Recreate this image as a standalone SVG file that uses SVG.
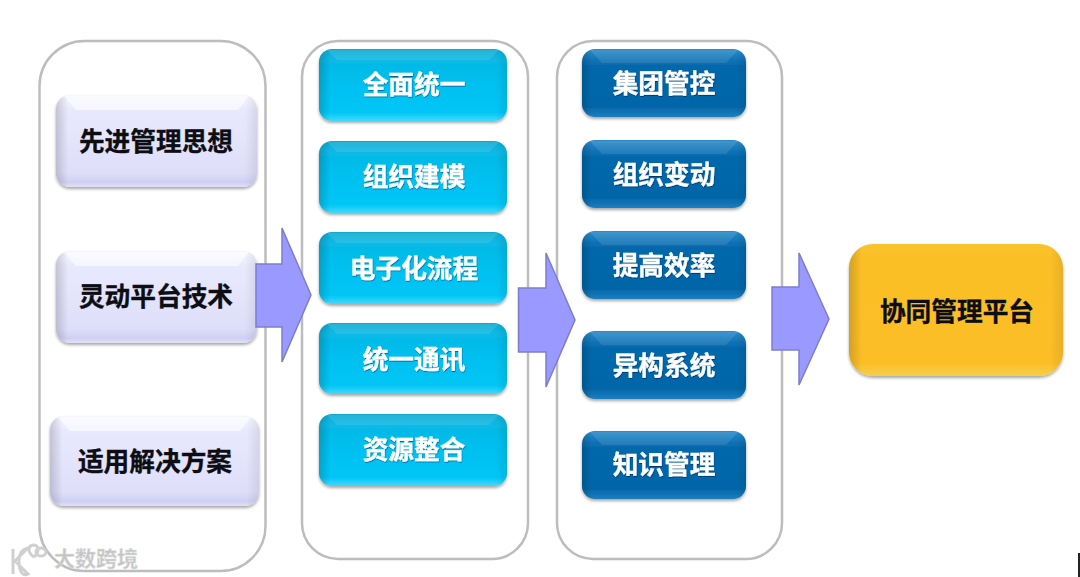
<svg xmlns="http://www.w3.org/2000/svg" width="1080" height="577" viewBox="0 0 1080 577">
<defs>
<style>
.panel{fill:#fff;stroke:#bdbdbd;stroke-width:2.5}
.arrow{fill:#9999ff;stroke:#7d7dcc;stroke-width:1.5}
text{font-family:"Noto Sans CJK SC","Liberation Sans",sans-serif;font-weight:700;text-anchor:middle;dominant-baseline:central;font-size:25.7px}
.dk{fill:#0d0d14;stroke:#0d0d14;stroke-width:.35}
.lt{fill:#fff;stroke:#fff;stroke-width:.3;filter:url(#ts)}
.side{fill:url(#sideShade)}
.lav{fill:url(#lavG);filter:url(#sh)}
.cy{fill:url(#cyG);filter:url(#sh)}
.bl{fill:url(#blG);filter:url(#sh)}
.go{fill:url(#goG);filter:url(#sh)}
.hi{fill:#fff;opacity:.55}
.hi2{fill:#fff;opacity:.1}
</style>
<linearGradient id="lavG" x1="0" y1="0" x2="0" y2="1">
<stop offset="0" stop-color="#f6f6ff"/><stop offset=".16" stop-color="#e9e9fd"/><stop offset=".85" stop-color="#dedefa"/><stop offset=".95" stop-color="#cfcff3"/><stop offset="1" stop-color="#e2e2f4"/>
</linearGradient>
<linearGradient id="cyG" x1="0" y1="0" x2="0" y2="1">
<stop offset="0" stop-color="#12a9cf"/><stop offset=".13" stop-color="#08b8e4"/><stop offset=".5" stop-color="#00c0f0"/><stop offset=".88" stop-color="#00c6f6"/><stop offset="1" stop-color="#45d8f9"/>
</linearGradient>
<linearGradient id="blG" x1="0" y1="0" x2="0" y2="1">
<stop offset="0" stop-color="#2e8cc8"/><stop offset=".14" stop-color="#1276b8"/><stop offset=".25" stop-color="#0568ab"/><stop offset=".85" stop-color="#0366a8"/><stop offset="1" stop-color="#1b7fc0"/>
</linearGradient>
<linearGradient id="goG" x1="0" y1="0" x2="0" y2="1">
<stop offset="0" stop-color="#f9c32a"/><stop offset=".1" stop-color="#fbbf28"/><stop offset=".9" stop-color="#fcbe28"/><stop offset="1" stop-color="#f4cf4a"/>
</linearGradient>
<linearGradient id="sideShade" x1="0" y1="0" x2="1" y2="0">
<stop offset="0" stop-color="#000" stop-opacity=".16"/><stop offset=".06" stop-color="#000" stop-opacity="0"/><stop offset=".94" stop-color="#000" stop-opacity="0"/><stop offset="1" stop-color="#000" stop-opacity=".08"/>
</linearGradient>
<filter id="sh" x="-10%" y="-10%" width="120%" height="125%"><feDropShadow dx="0" dy="2" stdDeviation="1.500" flood-color="#000" flood-opacity=".35"/></filter>
<filter id="ts" x="-10%" y="-20%" width="120%" height="140%"><feDropShadow dx="0.5" dy="1" stdDeviation="0.6" flood-color="#003" flood-opacity=".45"/></filter>
</defs>
<rect width="1080" height="577" fill="#fff"/>
<g id="panels">
<rect class="panel" x="39.500" y="41" width="226" height="530" rx="45"/>
<rect class="panel" x="302" y="41" width="226" height="518" rx="36"/>
<rect class="panel" x="557" y="41" width="225" height="518" rx="36"/>
</g>
<g id="n1"><rect class="lav" x="56" y="95" width="201" height="92" rx="14"/><rect class="side" x="56" y="95" width="201" height="92" rx="14"/><path class="hi" d="M64 96H249L238 110H76Z"/><text class="dk" x="156" y="139.500">先进管理思想</text></g>
<g id="n2"><rect class="lav" x="56" y="251" width="201" height="92" rx="14"/><rect class="side" x="56" y="251" width="201" height="92" rx="14"/><path class="hi" d="M64 252H249L238 266H76Z"/><text class="dk" x="156" y="294.500">灵动平台技术</text></g>
<g id="n3"><rect class="lav" x="50" y="416" width="209" height="90" rx="14"/><rect class="side" x="50" y="416" width="209" height="90" rx="14"/><path class="hi" d="M58 417H251L240 431H70Z"/><text class="dk" x="155" y="459.500">适用解决方案</text></g>
<g id="c1"><rect class="cy" x="319" y="49" width="188" height="72" rx="13"/><rect class="side" x="319" y="49" width="188" height="72" rx="13"/><path class="hi2" d="M327 50H499L489 60H337Z"/><text class="lt" x="414" y="82.500">全面统一</text></g>
<g id="c2"><rect class="cy" x="319" y="141" width="188" height="72" rx="13"/><rect class="side" x="319" y="141" width="188" height="72" rx="13"/><path class="hi2" d="M327 142H499L489 152H337Z"/><text class="lt" x="414" y="174.500">组织建模</text></g>
<g id="c3"><rect class="cy" x="319" y="232" width="188" height="72" rx="13"/><rect class="side" x="319" y="232" width="188" height="72" rx="13"/><path class="hi2" d="M327 233H499L489 243H337Z"/><text class="lt" x="414" y="266.500">电子化流程</text></g>
<g id="c4"><rect class="cy" x="319" y="323" width="188" height="71" rx="13"/><rect class="side" x="319" y="323" width="188" height="71" rx="13"/><path class="hi2" d="M327 324H499L489 334H337Z"/><text class="lt" x="414" y="357.500">统一通讯</text></g>
<g id="c5"><rect class="cy" x="319" y="414" width="188" height="72" rx="13"/><rect class="side" x="319" y="414" width="188" height="72" rx="13"/><path class="hi2" d="M327 415H499L489 425H337Z"/><text class="lt" x="414" y="447.500">资源整合</text></g>
<g id="b1"><rect class="bl" x="582" y="49" width="164" height="68" rx="13"/><rect class="side" x="582" y="49" width="164" height="68" rx="13"/><path class="hi2" d="M590 50H738L726 63H602Z"/><text class="lt" x="664" y="81.500">集团管控</text></g>
<g id="b2"><rect class="bl" x="582" y="140" width="164" height="68" rx="13"/><rect class="side" x="582" y="140" width="164" height="68" rx="13"/><path class="hi2" d="M590 141H738L726 154H602Z"/><text class="lt" x="664" y="172.500">组织变动</text></g>
<g id="b3"><rect class="bl" x="582" y="231" width="164" height="68" rx="13"/><rect class="side" x="582" y="231" width="164" height="68" rx="13"/><path class="hi2" d="M590 232H738L726 245H602Z"/><text class="lt" x="664" y="263.500">提高效率</text></g>
<g id="b4"><rect class="bl" x="582" y="331" width="164" height="68" rx="13"/><rect class="side" x="582" y="331" width="164" height="68" rx="13"/><path class="hi2" d="M590 332H738L726 345H602Z"/><text class="lt" x="664" y="363.500">异构系统</text></g>
<g id="b5"><rect class="bl" x="582" y="431" width="164" height="68" rx="13"/><rect class="side" x="582" y="431" width="164" height="68" rx="13"/><path class="hi2" d="M590 432H738L726 445H602Z"/><text class="lt" x="664" y="462.500">知识管理</text></g>
<g id="target"><rect class="go" x="849" y="244" width="214" height="132" rx="24"/><rect class="side" x="849" y="244" width="214" height="132" rx="24"/><text class="dk" x="957" y="309.500">协同管理平台</text></g>
<g id="connectors">
<path class="arrow" d="M256 264H282V228L311 295L282 362V327H256Z"/>
<path class="arrow" d="M518.500 288H546V253L575 320L546 387V352H518.500Z"/>
<path class="arrow" d="M772 287H799V253L829 319L799 385V350H772Z"/>
</g>
<g id="watermark">
<path d="M13 549V574M28 548L15 561L28 574C22 577 19 570 19 561C19 553 23 549 28 548M34 557C28 553 27 546 33 545C39 545 40 552 34 557M36 552A5 4 0 1 0 46 552A5 4 0 1 0 36 552" fill="none" stroke="#d0d0d0" stroke-width="3"/>
<text x="96" y="557" style="font-size:21px;font-weight:700;fill:#c4c4c4;stroke:#e4e4e4;stroke-width:.5">大数跨境</text>
</g>
<rect id="edge-mark" x="1078" y="553" width="2" height="24" fill="#222"/>
</svg>
